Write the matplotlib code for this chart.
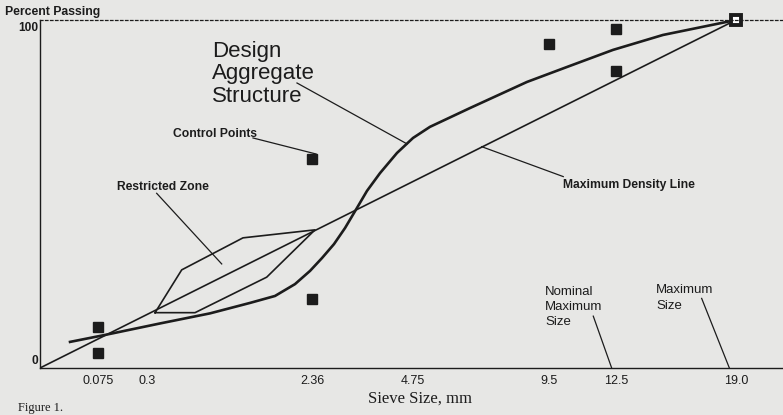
import numpy as np
import matplotlib
matplotlib.use("Agg")
import matplotlib.pyplot as plt

# sieve sizes (mm) on the 0.45 power axis
tick_sizes = [0.075, 0.3, 2.36, 4.75, 9.5, 12.5, 19.0]
tick_labels = ["0.075", "0.3", "2.36", "4.75", "9.5", "12.5", "19.0"]

# control points (percent passing)
ctrl_x = [0.075, 0.075, 2.36, 2.36, 9.5, 12.5, 12.5]
ctrl_y = [11.9, 4.4, 60.0, 19.8, 93.0, 97.4, 85.3]
max_size = 19.0

# maximum density line
mdl_x = [0.0, 19.0]
mdl_y = [0.0, 100.0]

# restricted zone outline
rz_x = [0.348, 0.553, 1.229, 2.413, 1.571, 0.675, 0.348]
rz_y = [15.9, 28.2, 37.4, 39.7, 26.1, 15.9, 15.9]

# design aggregate structure
das_x = [0.0176, 0.0978, 0.382, 0.829, 1.325, 1.702, 2.040, 2.317, 2.552,
         2.799, 3.037, 3.309, 3.546, 3.867, 4.310, 4.751, 5.245, 6.516,
         8.592, 10.24, 12.33, 14.85, 19.0]
das_y = [7.5, 9.5, 12.8, 15.7, 18.7, 20.7, 24.1, 27.9, 31.6,
         35.6, 40.2, 46.0, 50.9, 56.0, 61.8, 66.1, 69.3, 74.7,
         82.2, 86.5, 91.4, 95.7, 100.0]

ink = "#1c1c1c"
bg = "#e7e7e5"


def fwd(x):
    x = np.asarray(x, dtype=float)
    return np.sign(x) * np.abs(x) ** 0.45


def inv(x):
    x = np.asarray(x, dtype=float)
    return np.sign(x) * np.abs(x) ** (1 / 0.45)


def px(x, y):
    # figure fraction from pixel position (top-left origin)
    return x / 783, 1 - y / 415


fig = plt.figure(figsize=(7.83, 4.15), dpi=100, facecolor=bg)
ax = fig.add_axes([40 / 783, 47 / 415, 743 / 783, 348 / 415])
ax.set_facecolor(bg)
ax.set_xscale("function", functions=(fwd, inv))
ax.set_xlim(0, 21.97)
ax.set_ylim(0, 100)

ax.spines["right"].set_visible(False)
ax.spines["top"].set_linestyle((0, (2, 2)))
ax.spines["top"].set_linewidth(0.9)
ax.spines["left"].set_linewidth(1.0)
ax.spines["bottom"].set_linewidth(1.0)
for s in ["top", "left", "bottom"]:
    ax.spines[s].set_color(ink)

ax.set_xticks(tick_sizes)
ax.set_xticklabels(tick_labels, fontsize=9, family="Liberation Sans", color=ink)
ax.tick_params(axis="x", length=0, pad=5)
ax.set_yticks([])
ax.minorticks_off()

ax.plot(mdl_x, mdl_y, color=ink, lw=1.2)
ax.plot(rz_x, rz_y, color=ink, lw=1.2)
ax.plot(das_x, das_y, color=ink, lw=1.9)
ax.plot(ctrl_x, ctrl_y, "s", color=ink, ms=6.5, ls="none")
ax.plot([max_size], [100], "s", mfc="white", mec=ink, mew=2.8, ms=6.5,
        clip_on=False)

# leader lines
leaders = [
    ([2.076, 4.583], [81.9, 64.4]),
    ([1.368, 2.433], [66.1, 61.5]),
    ([0.359, 0.961], [50.2, 29.9]),
    ([6.917, 10.08], [63.6, 55.0]),
    ([11.41, 12.27], [14.9, 0.0]),
    ([16.98, 18.60], [20.0, 0.0]),
]
for lx, ly in leaders:
    ax.plot(lx, ly, color=ink, lw=0.9)

sans = "Liberation Sans"
fig.text(*px(5, 12), "Percent Passing", fontsize=8.8, weight="bold",
         family=sans, color=ink, va="center", ha="left")
fig.text(*px(38, 28), "100", fontsize=8.6, weight="bold", family=sans,
         color=ink, va="center", ha="right")
fig.text(*px(38, 361), "0", fontsize=8.6, weight="bold", family=sans,
         color=ink, va="center", ha="right")
fig.text(*px(212, 74), "Design\nAggregate\nStructure", fontsize=16,
         family=sans, color=ink, va="center", ha="left", linespacing=1.1)
fig.text(*px(173, 134), "Control Points", fontsize=8.7, weight="bold",
         family=sans, color=ink, va="center", ha="left")
fig.text(*px(117, 187), "Restricted Zone", fontsize=8.7, weight="bold",
         family=sans, color=ink, va="center", ha="left")
fig.text(*px(563, 185), "Maximum Density Line", fontsize=8.7, weight="bold",
         family=sans, color=ink, va="center", ha="left")
fig.text(*px(545, 307), "Nominal\nMaximum\nSize", fontsize=9.5,
         family=sans, color=ink, va="center", ha="left", linespacing=1.35)
fig.text(*px(656, 298), "Maximum\nSize", fontsize=9.5,
         family=sans, color=ink, va="center", ha="left", linespacing=1.35)
fig.text(*px(420, 399), "Sieve Size, mm", fontsize=12,
         family="Liberation Serif", color=ink, va="center", ha="center")
fig.text(*px(18, 414), "Figure 1.", fontsize=9,
         family="Liberation Serif", color=ink, va="bottom", ha="left")

fig.savefig("out.png", dpi=100, facecolor=bg)
